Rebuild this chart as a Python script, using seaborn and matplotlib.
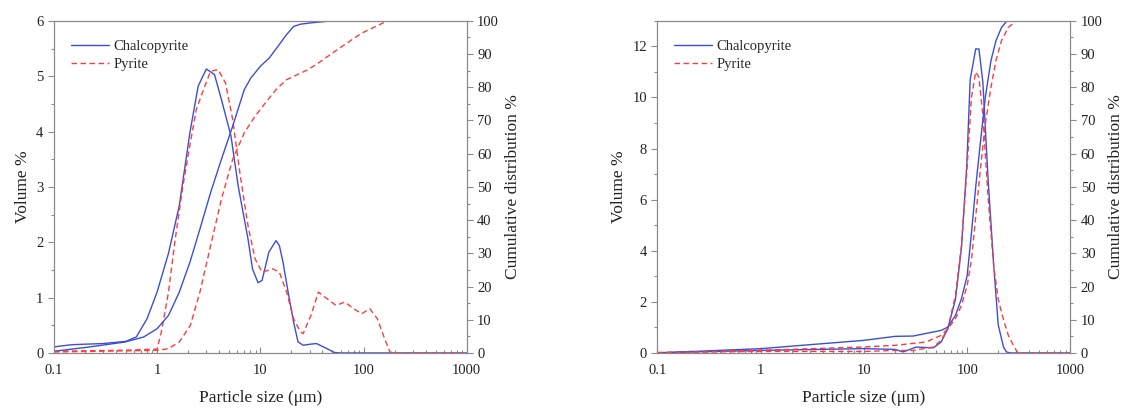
import numpy as np
import pandas as pd
import matplotlib
matplotlib.use("Agg")
import matplotlib.pyplot as plt
import matplotlib.ticker as mticker
import seaborn as sns

# left panel: particle size (um), volume % and cumulative %
chalco_a_size = [0.1, 0.15, 0.3, 0.5, 0.63, 0.8, 1.0, 1.29, 1.64, 2.08, 2.5, 3.0, 3.6, 4.2, 5.2, 6.1,
                 7.6, 8.4, 9.5, 10.4, 12.1, 14.2, 15.3, 16.6, 18.6, 21, 23.2, 26, 31, 35, 43, 52, 59, 1000]
chalco_a_vol = [0.11, 0.15, 0.17, 0.21, 0.29, 0.62, 1.1, 1.8, 2.66, 3.98, 4.82, 5.13, 5.03, 4.58, 3.92, 3.02,
                2.06, 1.52, 1.27, 1.31, 1.82, 2.03, 1.94, 1.64, 1.1, 0.56, 0.2, 0.14, 0.16, 0.17, 0.09, 0.01, 0.0, 0.0]
chalco_a_cum_size = [0.1, 0.22, 0.49, 0.74, 1.0, 1.29, 1.64, 2.08, 2.6, 3.3, 4.2, 5.4, 7.0, 8.1, 10,
                     12.2, 14.8, 17.9, 21, 24.5, 33, 50, 1000]
chalco_a_cum = [0.5, 1.8, 3.3, 4.8, 7.3, 11.3, 18.3, 27.3, 37.3, 48.3, 58.3, 68.3, 79.3, 82.8, 86.3,
                88.8, 92.3, 95.8, 98.3, 99.0, 99.5, 100, 100]

pyrite_a_size = [0.1, 0.5, 1.0, 1.1, 1.29, 1.5, 1.78, 2.1, 2.4, 2.9, 3.3, 3.9, 4.6, 5.4, 6.4, 7.6, 8.9,
                 10.4, 13.2, 15.3, 18, 21, 24.5, 26, 31, 36.5, 43, 54, 66, 80, 96, 115, 136, 160, 180, 195, 1000]
pyrite_a_vol = [0.03, 0.05, 0.07, 0.38, 1.1, 2.06, 3.02, 3.8, 4.4, 4.82, 5.09, 5.12, 4.88, 4.22, 3.2, 2.3, 1.7,
                1.46, 1.52, 1.46, 1.1, 0.62, 0.38, 0.35, 0.68, 1.1, 1.0, 0.86, 0.92, 0.8, 0.71, 0.8, 0.62, 0.26,
                0.02, 0.0, 0.0]
pyrite_a_cum_size = [0.1, 1.0, 1.29, 1.64, 2.1, 2.6, 3.3, 4.2, 5.4, 7.0, 8.9, 11.2, 14.2, 18, 22.8, 29,
                     36.5, 50, 69, 96, 131, 170, 1000]
pyrite_a_cum = [0.3, 0.8, 1.3, 3.3, 8.3, 18.3, 32.3, 46.3, 58.3, 66.3, 71.3, 75.3, 79.3, 82.3, 83.8, 85.3,
                87.3, 90.3, 93.3, 96.3, 98.3, 100, 100]

# right panel
chalco_b_size = [0.1, 1, 10, 20, 24, 32, 47, 56, 65, 77, 88, 99, 107, 121, 130, 142, 160, 181, 200,
                 225, 240, 265, 1000]
chalco_b_vol = [0.01, 0.1, 0.17, 0.14, 0.04, 0.23, 0.2, 0.43, 0.95, 2.1, 4.1, 7.3, 10.7, 11.9, 11.9,
                10.6, 6.7, 3.4, 1.1, 0.23, 0.04, 0.0, 0.0]
chalco_b_cum_size = [0.1, 1, 10, 20, 30, 56, 65, 77, 88, 100, 110, 121, 135, 150, 170, 190, 215, 240,
                     265, 1000]
chalco_b_cum = [0.0, 1.3, 3.8, 5.0, 5.1, 6.8, 7.8, 11.3, 16.3, 23.3, 36, 50, 64, 77, 88, 94, 98, 99.8,
                100, 100]

pyrite_b_size = [0.1, 1, 10, 20, 30, 47, 56, 65, 77, 88, 100, 110, 121, 130, 142, 160, 181, 200, 225,
                 250, 280, 310, 1000]
pyrite_b_vol = [0.02, 0.06, 0.06, 0.1, 0.1, 0.23, 0.5, 0.95, 2.25, 4.2, 7.3, 10.0, 11.0, 10.8, 9.3,
                6.0, 3.4, 2.1, 1.3, 0.7, 0.3, 0.0, 0.0]
pyrite_b_cum_size = [0.1, 1, 10, 20, 40, 56, 65, 77, 88, 100, 110, 121, 135, 150, 170, 190, 215, 250,
                     300, 1000]
pyrite_b_cum = [0.0, 0.8, 1.8, 2.3, 3.3, 5.3, 7.3, 10.3, 14.3, 20.3, 28, 41, 56, 69, 80, 88, 94, 98,
                100, 100]

x_ticks = [0.1, 1, 10, 100, 1000]
x_ticklabels = ["0.1", "1", "10", "100", "1000"]

sns.set_style("ticks")
plt.rcParams['font.family'] = ['Liberation Serif', 'DejaVu Serif']

BLUE = "#3a4fd8"
RED = "#ff3b3b"
GREY = "#8a8a8a"
DASH = (0, (4, 2.5))

fig = plt.figure(figsize=(11.22, 4.09), dpi=100)
ax1 = fig.add_axes([0.048, 0.137, 0.368, 0.812])
ax2 = fig.add_axes([0.586, 0.137, 0.368, 0.812])


def draw_panel(ax, vol_data, cum_data, ymax, ymajor, yminor):
    (cs, cv), (ps, pv) = vol_data
    (ccs, ccv), (pcs, pcv) = cum_data
    sns.lineplot(x=cs, y=cv, ax=ax, color=BLUE, lw=1.0, label="Chalcopyrite")
    sns.lineplot(x=ps, y=pv, ax=ax, color=RED, lw=1.0, linestyle=DASH, label="Pyrite")
    ax.set_xscale("log")
    ax.set_ylim(0, ymax)
    ax.yaxis.set_major_locator(mticker.MultipleLocator(ymajor))
    ax.yaxis.set_minor_locator(mticker.MultipleLocator(yminor))
    ax.set_xlabel("Particle size (μm)", fontsize=12.5, color="#222222", labelpad=9)
    ax.set_ylabel("Volume %", fontsize=12.5, color="#222222")
    ax.legend(loc="upper left", bbox_to_anchor=(0.02, 0.97), frameon=False, fontsize=10.5,
              handlelength=2.6, handletextpad=0.3, labelspacing=0.35, borderaxespad=0.2)

    tw = ax.twinx()
    sns.lineplot(x=ccs, y=ccv, ax=tw, color=BLUE, lw=1.0, legend=False)
    sns.lineplot(x=pcs, y=pcv, ax=tw, color=RED, lw=1.0, linestyle=DASH, legend=False)
    tw.set_xscale("log")
    tw.set_ylim(0, 100)
    tw.yaxis.set_major_locator(mticker.MultipleLocator(10))
    tw.yaxis.set_minor_locator(mticker.MultipleLocator(5))
    tw.set_ylabel("Cumulative distribution %", fontsize=12.5, color="#222222")

    # x axis formatting after the twin is set up (set_xscale resets it)
    ax.set_xlim(0.1, 1000)
    ax.xaxis.set_major_locator(mticker.FixedLocator(x_ticks))
    ax.xaxis.set_major_formatter(mticker.FixedFormatter(x_ticklabels))
    ax.xaxis.set_minor_locator(mticker.LogLocator(base=10, subs=np.arange(2, 10)))
    ax.xaxis.set_minor_formatter(mticker.NullFormatter())

    ax.tick_params(axis="x", which="both", direction="in", colors=GREY, labelcolor="#222222",
                   labelsize=10.5, length=4, width=0.8, pad=8)
    ax.tick_params(axis="x", which="minor", length=2.5)
    for a in (ax, tw):
        a.tick_params(axis="y", which="both", direction="out", colors=GREY, labelcolor="#222222",
                      labelsize=10.5, length=4, width=0.8)
        a.tick_params(axis="y", which="minor", length=2.5)
        for s in a.spines.values():
            s.set_color(GREY)
            s.set_linewidth(0.8)
            s.set_visible(True)
    return tw


draw_panel(ax1,
           ((chalco_a_size, chalco_a_vol), (pyrite_a_size, pyrite_a_vol)),
           ((chalco_a_cum_size, chalco_a_cum), (pyrite_a_cum_size, pyrite_a_cum)),
           6, 1, 0.5)
draw_panel(ax2,
           ((chalco_b_size, chalco_b_vol), (pyrite_b_size, pyrite_b_vol)),
           ((chalco_b_cum_size, chalco_b_cum), (pyrite_b_cum_size, pyrite_b_cum)),
           13, 2, 1)

fig.savefig("out.png", dpi=100)
